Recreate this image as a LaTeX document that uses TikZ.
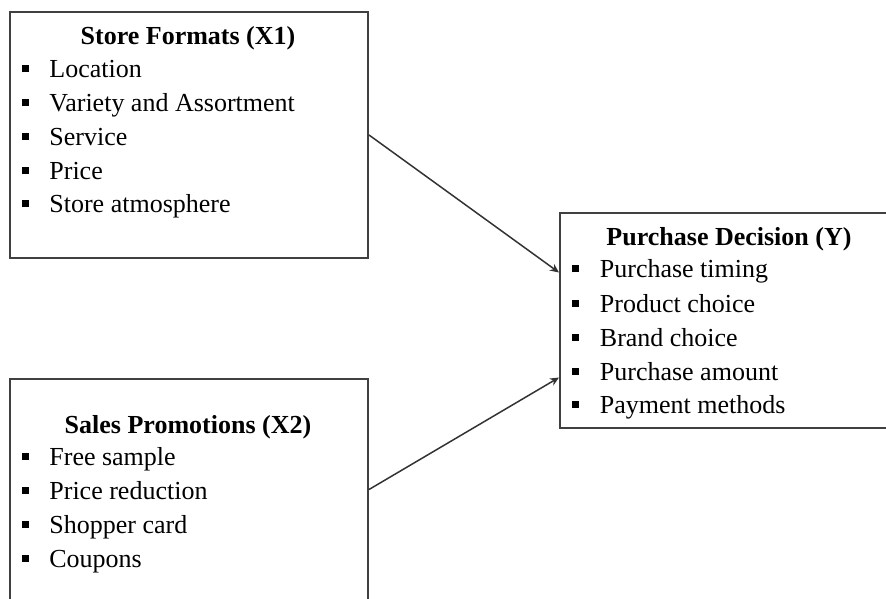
\documentclass[tikz,border=0pt]{standalone}
\usepackage{fontspec}
\setmainfont{Liberation Serif}
\usetikzlibrary{arrows.meta}
\newcommand{\sqbul}{\rule[2.75pt]{3.5pt}{3.5pt}\hspace{10.25pt}}
\newcommand{\boxfont}{\fontsize{13pt}{17pt}\selectfont}
\tikzset{
  varbox/.style={draw=black!75, line width=1pt, inner sep=0},
  boxtitle/.style={anchor=base, inner sep=0, font=\boxfont\bfseries},
  boxitem/.style={anchor=base west, inner sep=0, font=\boxfont},
  link/.style={draw=black!80, line width=0.75pt, -{Stealth[length=4.5pt,width=4pt]}}
}
\begin{document}
\begin{tikzpicture}[x=0.5pt, y=-0.5pt]
\clip (0,0) rectangle (886,598);
% boxes
\node[varbox, minimum width=179pt, minimum height=123pt] (sf) at (189,135) {};
\node[varbox, minimum width=179pt, minimum height=110.5pt] (sp) at (189,489.5) {};
\node[varbox, minimum width=170pt, minimum height=107.5pt] (pd) at (730,320.5) {};
% store formats
\node[boxtitle] (sft) at (188,45) {Store Formats (X1)};
\node[boxitem] (sf1) at (21.5,78) {\sqbul Location};
\node[boxitem] (sf2) at (21.5,112) {\sqbul Variety and Assortment};
\node[boxitem] (sf3) at (21.5,146) {\sqbul Service};
\node[boxitem] (sf4) at (21.5,180) {\sqbul Price};
\node[boxitem] (sf5) at (21.5,213) {\sqbul Store atmosphere};
% sales promotions
\node[boxtitle] (spt) at (188,433) {Sales Promotions (X2)};
\node[boxitem] (sp1) at (21.5,465) {\sqbul Free sample};
\node[boxitem] (sp2) at (21.5,499) {\sqbul Price reduction};
\node[boxitem] (sp3) at (21.5,533) {\sqbul Shopper card};
\node[boxitem] (sp4) at (21.5,567) {\sqbul Coupons};
% purchase decision
\node[boxtitle] (pdt) at (729,245) {Purchase Decision (Y)};
\node[boxitem] (pd1) at (572,278) {\sqbul Purchase timing};
\node[boxitem] (pd2) at (572,312) {\sqbul Product choice};
\node[boxitem] (pd3) at (572,346) {\sqbul Brand choice};
\node[boxitem] (pd4) at (572,380) {\sqbul Purchase amount};
\node[boxitem] (pd5) at (572,413) {\sqbul Payment methods};
% arrows
\draw[link] (sf.east) -- ([yshift=24pt]pd.west);
\draw[link] (sp.east) -- ([yshift=-28.5pt]pd.west);
\end{tikzpicture}
\end{document}
